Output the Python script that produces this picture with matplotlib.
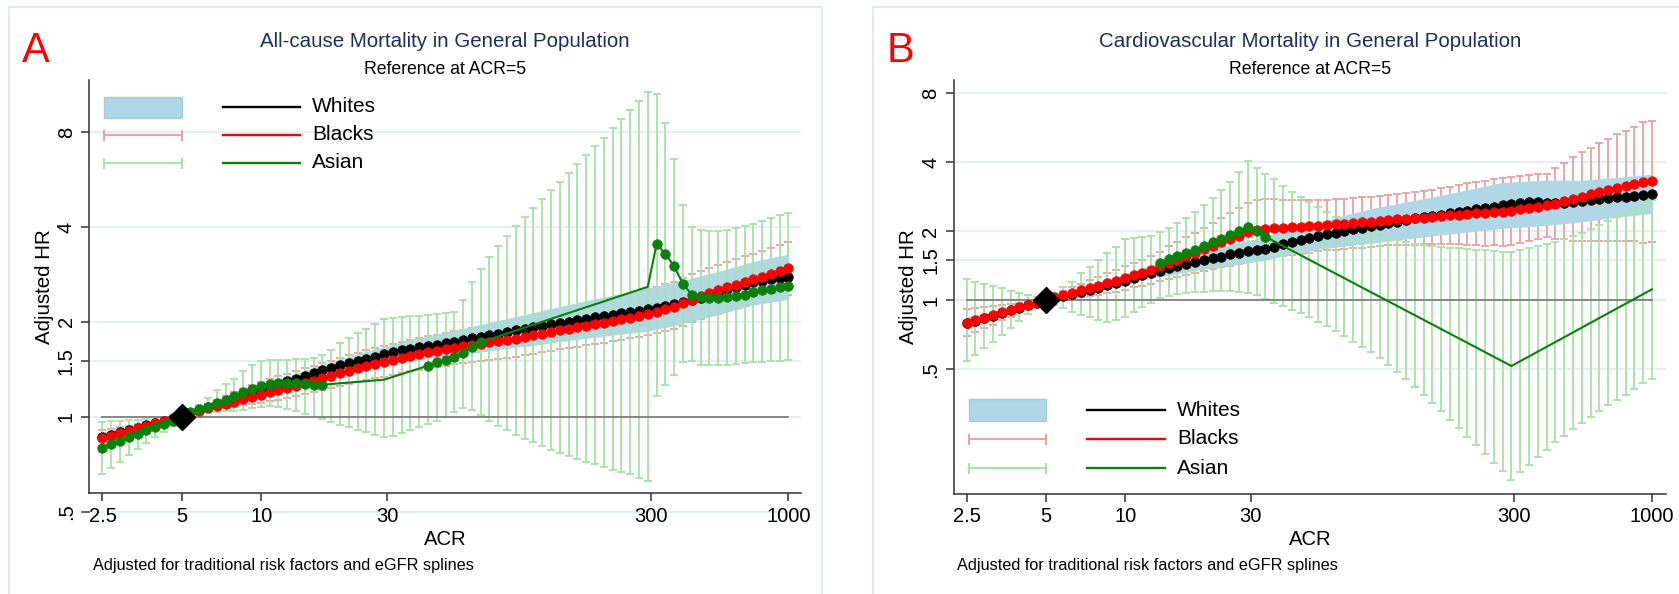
import matplotlib
matplotlib.use("Agg")
import matplotlib.pyplot as plt
import matplotlib.transforms as mtransforms
from matplotlib.lines import Line2D
from matplotlib.patches import Rectangle
from matplotlib.ticker import NullLocator

plt.rcParams['font.family'] = ['Liberation Sans', 'DejaVu Sans']

# ---------------------------------------------------------------- data
# ACR evaluation grid (log-spaced from 2.5 to 1000)
acr = [2.5, 2.700, 2.915, 3.148, 3.399, 3.671, 3.964, 4.280, 4.622, 4.991,
       5.390, 5.820, 6.285, 6.787, 7.329, 7.914, 8.546, 9.228, 9.965, 10.76,
       11.62, 12.55, 13.55, 14.63, 15.80, 17.06, 18.42, 19.89, 21.48, 23.20,
       25.05, 27.05, 29.21, 31.54, 34.06, 36.78, 39.72, 42.89, 46.31, 50.01,
       54.00, 58.31, 62.97, 67.99, 73.42, 79.28, 85.61, 92.45, 99.83, 107.8,
       116.4, 125.7, 135.7, 146.6, 158.3, 170.9, 184.6, 199.3, 215.2, 232.4,
       251.0, 271.0, 292.6, 316.0, 341.3, 368.5, 397.9, 429.7, 464.0, 501.1,
       541.1, 584.3, 630.9, 681.3, 735.7, 794.4, 857.9, 926.4, 1000.0]

x_ticks = [2.5, 5, 10, 30, 300, 1000]
x_tick_labels = ['2.5', '5', '10', '30', '300', '1000']
y_ticks = [0.5, 1, 1.5, 2, 4, 8]
y_tick_labels = ['.5', '1', '1.5', '2', '4', '8']
legend_labels = ['Whites', 'Blacks', 'Asian']

# ---- Panel A: all-cause mortality
A_whites_hr = [0.862, 0.876, 0.892, 0.907, 0.924, 0.940, 0.956, 0.972, 0.987, 1.000,
               1.025, 1.050, 1.075, 1.100, 1.125, 1.150, 1.175, 1.200, 1.225, 1.250,
               1.272, 1.296, 1.321, 1.350, 1.377, 1.404, 1.431, 1.456, 1.482, 1.507,
               1.529, 1.552, 1.578, 1.601, 1.625, 1.641, 1.660, 1.681, 1.693, 1.715,
               1.731, 1.753, 1.772, 1.793, 1.817, 1.836, 1.864, 1.880, 1.905, 1.928,
               1.940, 1.964, 1.984, 2.003, 2.028, 2.048, 2.073, 2.090, 2.110, 2.130,
               2.150, 2.170, 2.190, 2.215, 2.250, 2.285, 2.320, 2.350, 2.378, 2.437,
               2.484, 2.540, 2.578, 2.627, 2.670, 2.700, 2.730, 2.760, 2.780]
A_band_acr = [2.5, 3.399, 4.991, 7.329, 11.62, 17.06, 25.05, 36.78, 54.0, 79.28,
              116.4, 170.9, 292.6, 397.9, 541.1, 735.7, 1000.0]
A_band_lo = [0.836, 0.909, 1.0, 1.090, 1.228, 1.340, 1.445, 1.510, 1.560, 1.634,
             1.700, 1.776, 1.868, 1.975, 2.110, 2.265, 2.355]
A_band_hi = [0.897, 0.944, 1.0, 1.146, 1.317, 1.467, 1.613, 1.756, 1.878, 2.020,
             2.173, 2.337, 2.562, 2.710, 2.890, 3.110, 3.280]

A_blacks_hr = [0.856, 0.870, 0.888, 0.903, 0.921, 0.938, 0.955, 0.971, 0.988, 1.000,
               1.027, 1.045, 1.063, 1.081, 1.100, 1.118, 1.138, 1.155, 1.175, 1.195,
               1.212, 1.234, 1.255, 1.280, 1.302, 1.325, 1.350, 1.375, 1.400, 1.425,
               1.450, 1.472, 1.493, 1.515, 1.538, 1.560, 1.580, 1.600, 1.618, 1.637,
               1.655, 1.672, 1.690, 1.706, 1.723, 1.738, 1.754, 1.771, 1.792, 1.815,
               1.837, 1.857, 1.879, 1.900, 1.920, 1.945, 1.970, 1.990, 2.015, 2.040,
               2.064, 2.090, 2.115, 2.150, 2.190, 2.232, 2.290, 2.355, 2.410, 2.470,
               2.520, 2.575, 2.620, 2.680, 2.730, 2.780, 2.845, 2.905, 2.955]
A_blacks_lo = [0.810, 0.828, 0.851, 0.870, 0.893, 0.915, 0.938, 0.959, 0.982, 1.000,
               1.021, 1.032, 1.044, 1.055, 1.067, 1.078, 1.090, 1.100, 1.110, 1.121,
               1.128, 1.145, 1.161, 1.180, 1.197, 1.214, 1.233, 1.251, 1.270, 1.288,
               1.305, 1.323, 1.339, 1.357, 1.376, 1.393, 1.409, 1.426, 1.438, 1.454,
               1.468, 1.480, 1.494, 1.506, 1.518, 1.529, 1.542, 1.553, 1.570, 1.586,
               1.604, 1.619, 1.635, 1.651, 1.667, 1.684, 1.704, 1.719, 1.737, 1.756,
               1.775, 1.793, 1.813, 1.838, 1.868, 1.899, 1.944, 1.995, 2.036, 2.082,
               2.119, 2.160, 2.193, 2.240, 2.277, 2.313, 2.361, 2.405, 2.441]
A_blacks_hi = [0.905, 0.914, 0.927, 0.937, 0.950, 0.961, 0.973, 0.984, 0.994, 1.000,
               1.039, 1.070, 1.101, 1.133, 1.166, 1.196, 1.229, 1.259, 1.290, 1.320,
               1.345, 1.371, 1.396, 1.425, 1.450, 1.477, 1.507, 1.536, 1.565, 1.595,
               1.624, 1.650, 1.675, 1.700, 1.727, 1.753, 1.778, 1.800, 1.822, 1.845,
               1.865, 1.886, 1.906, 1.926, 1.945, 1.964, 1.989, 2.015, 2.046, 2.080,
               2.113, 2.145, 2.178, 2.210, 2.241, 2.278, 2.315, 2.346, 2.386, 2.424,
               2.460, 2.500, 2.538, 2.580, 2.628, 2.681, 2.750, 2.831, 2.897, 2.971,
               3.034, 3.100, 3.157, 3.232, 3.292, 3.355, 3.437, 3.512, 3.576]

A_asian_hr = [0.795, 0.819, 0.839, 0.862, 0.885, 0.905, 0.927, 0.950, 0.973, 1.000,
              1.032, 1.055, 1.078, 1.105, 1.132, 1.163, 1.195, 1.224, 1.248, 1.267,
              1.280, 1.283, 1.280, 1.270, 1.264, 1.264, None, None, None, None,
              None, None, 1.311, None, None, None, None, 1.452, 1.488, 1.517,
              1.548, 1.590, 1.665, 1.725, None, None, None, None, None, None,
              None, None, None, None, None, None, None, None, None, None,
              None, None, 2.584, 3.530, 3.290, 3.000, 2.640, 2.440, 2.390, 2.375,
              2.375, 2.390, 2.410, 2.440, 2.480, 2.520, 2.547, 2.584, 2.596]
A_asian_plain = [29.21, 292.6]          # line vertices drawn without a marker
A_asian_lo = [0.657, 0.687, 0.718, 0.754, 0.789, 0.825, 0.862, 0.898, 0.936, 1.000,
              1.020, 1.027, 1.032, 1.037, 1.043, 1.047, 1.052, 1.066, 1.078, 1.084,
              1.073, 1.060, 1.040, 1.022, 1.002, 0.983, 0.964, 0.945, 0.929, 0.911,
              0.894, 0.876, 0.860, 0.872, 0.889, 0.907, 0.927, 0.948, 0.973, 1.002,
              1.035, 1.070, 1.052, 1.015, 0.971, 0.936, 0.905, 0.876, 0.851, 0.829,
              0.809, 0.785, 0.767, 0.752, 0.734, 0.721, 0.707, 0.695, 0.679, 0.667,
              0.658, 0.641, 0.627, 1.160, 1.264, 1.360, 1.488, 1.498, 1.463, 1.456,
              1.456, 1.463, 1.470, 1.480, 1.488, 1.495, 1.498, 1.507, 1.510]
A_asian_hi = [0.965, 0.968, 0.972, 0.976, 0.980, 0.984, 0.988, 0.992, 0.996, 1.000,
              1.045, 1.089, 1.147, 1.212, 1.270, 1.321, 1.393, 1.463, 1.498, 1.517,
              1.514, 1.517, 1.520, 1.529, 1.540, 1.575, 1.633, 1.715, 1.778, 1.846,
              1.900, 1.976, 2.048, 2.058, 2.073, 2.083, 2.094, 2.104, 2.120, 2.135,
              2.150, 2.343, 2.672, 2.948, 3.218, 3.478, 3.753, 4.028, 4.314, 4.594,
              4.895, 5.229, 5.555, 5.920, 6.325, 6.755, 7.200, 7.670, 8.250, 8.790,
              9.390, 10.03, 10.69, 10.60, 8.540, 6.590, 4.686, 3.996, 3.920, 3.880,
              3.890, 3.920, 3.960, 4.020, 4.087, 4.180, 4.260, 4.365, 4.440]

# ---- Panel B: cardiovascular mortality
B_whites_hr = [0.795, 0.816, 0.836, 0.858, 0.880, 0.903, 0.927, 0.951, 0.975, 1.000,
               1.024, 1.046, 1.068, 1.090, 1.113, 1.137, 1.162, 1.190, 1.218, 1.252,
               1.285, 1.318, 1.346, 1.379, 1.412, 1.440, 1.469, 1.499, 1.525, 1.549,
               1.587, 1.613, 1.636, 1.657, 1.674, 1.710, 1.755, 1.795, 1.832, 1.876,
               1.915, 1.941, 1.972, 2.005, 2.040, 2.073, 2.109, 2.130, 2.180, 2.202,
               2.240, 2.278, 2.301, 2.332, 2.355, 2.395, 2.435, 2.460, 2.495, 2.536,
               2.561, 2.595, 2.630, 2.665, 2.691, 2.674, 2.665, 2.647, 2.665, 2.683,
               2.710, 2.737, 2.766, 2.785, 2.812, 2.830, 2.850, 2.880, 2.917]
B_band_acr = [2.5, 3.399, 4.991, 7.329, 11.62, 18.42, 31.54, 54.0, 85.61, 158.3,
              271.0, 397.9, 541.1, 735.7, 1000.0]
B_band_lo = [0.742, 0.848, 1.0, 1.070, 1.226, 1.350, 1.474, 1.670, 1.773, 1.930,
             2.060, 2.120, 2.200, 2.300, 2.395]
B_band_hi = [0.848, 0.912, 1.0, 1.160, 1.379, 1.600, 1.860, 2.196, 2.509, 2.873,
             3.270, 3.350, 3.340, 3.440, 3.553]

B_blacks_hr = [0.799, 0.821, 0.840, 0.862, 0.885, 0.907, 0.932, 0.954, 0.976, 1.000,
               1.030, 1.055, 1.079, 1.105, 1.131, 1.158, 1.190, 1.218, 1.251, 1.286,
               1.320, 1.356, 1.405, 1.455, 1.505, 1.555, 1.610, 1.670, 1.730, 1.790,
               1.845, 1.906, 1.990, 2.030, 2.050, 2.061, 2.073, 2.080, 2.087, 2.101,
               2.115, 2.130, 2.144, 2.158, 2.173, 2.187, 2.202, 2.224, 2.240, 2.255,
               2.262, 2.278, 2.293, 2.309, 2.332, 2.348, 2.363, 2.371, 2.395, 2.403,
               2.428, 2.435, 2.460, 2.495, 2.527, 2.561, 2.595, 2.638, 2.712, 2.768,
               2.830, 2.901, 2.959, 3.030, 3.100, 3.152, 3.220, 3.270, 3.300]
B_blacks_lo = [0.699, 0.729, 0.754, 0.784, 0.818, 0.850, 0.888, 0.923, 0.959, 1.000,
               1.010, 1.015, 1.023, 1.033, 1.044, 1.058, 1.077, 1.092, 1.112, 1.138,
               1.158, 1.179, 1.211, 1.233, 1.258, 1.286, 1.316, 1.347, 1.373, 1.399,
               1.418, 1.433, 1.494, 1.504, 1.523, 1.539, 1.563, 1.576, 1.590, 1.611,
               1.633, 1.650, 1.662, 1.675, 1.686, 1.699, 1.713, 1.732, 1.742, 1.750,
               1.746, 1.750, 1.753, 1.754, 1.766, 1.761, 1.756, 1.738, 1.743, 1.734,
               1.744, 1.734, 1.749, 1.784, 1.814, 1.853, 1.892, 1.851, 1.857, 1.820,
               1.812, 1.818, 1.809, 1.814, 1.813, 1.810, 1.813, 1.782, 1.800]
B_blacks_hi = [0.913, 0.925, 0.936, 0.948, 0.958, 0.968, 0.978, 0.986, 0.993, 1.000,
               1.050, 1.097, 1.138, 1.182, 1.225, 1.268, 1.315, 1.358, 1.407, 1.453,
               1.505, 1.559, 1.630, 1.717, 1.800, 1.880, 1.970, 2.070, 2.180, 2.290,
               2.400, 2.535, 2.650, 2.740, 2.760, 2.760, 2.750, 2.745, 2.740, 2.740,
               2.740, 2.750, 2.766, 2.780, 2.800, 2.815, 2.830, 2.855, 2.880, 2.905,
               2.930, 2.965, 3.000, 3.040, 3.080, 3.130, 3.180, 3.235, 3.290, 3.330,
               3.380, 3.420, 3.460, 3.490, 3.520, 3.540, 3.560, 3.760, 3.960, 4.210,
               4.420, 4.630, 4.840, 5.060, 5.300, 5.490, 5.720, 6.000, 6.050]

B_asian_hr = [None, None, None, None, None, None, None, None, None, None,
              None, None, None, None, None, None, None, None, None, None,
              None, None, 1.450, 1.510, 1.560, 1.610, 1.665, 1.725, 1.790, 1.860,
              1.930, 2.005, 2.094, 2.005, 1.895, None, None, None, None, None,
              None, None, None, None, None, None, None, None, None, None,
              None, None, None, None, None, None, None, None, None, None,
              None, None, 0.517, None, None, None, None, None, None, None,
              None, None, None, None, None, None, None, None, 1.117]
B_asian_plain = [292.6, 1000.0]         # line vertices drawn without a marker
B_asian_lo = [0.544, 0.580, 0.621, 0.660, 0.705, 0.757, 0.812, 0.870, 0.932, 1.000,
              0.954, 0.923, 0.892, 0.863, 0.843, 0.820, 0.807, 0.820, 0.848, 0.892,
              0.938, 0.976, 1.020, 1.044, 1.062, 1.073, 1.083, 1.090, 1.095, 1.100,
              1.095, 1.085, 1.075, 1.060, 1.012, 0.971, 0.947, 0.911, 0.882, 0.843,
              0.808, 0.772, 0.737, 0.698, 0.661, 0.626, 0.593, 0.558, 0.524, 0.489,
              0.454, 0.420, 0.387, 0.356, 0.328, 0.302, 0.277, 0.254, 0.233, 0.214,
              0.196, 0.180, 0.165, 0.178, 0.192, 0.207, 0.223, 0.240, 0.257, 0.275,
              0.293, 0.311, 0.329, 0.348, 0.366, 0.388, 0.410, 0.434, 0.456]
B_asian_hi = [1.235, 1.205, 1.178, 1.155, 1.128, 1.101, 1.073, 1.055, 1.037, 1.000,
              1.079, 1.146, 1.205, 1.311, 1.401, 1.499, 1.604, 1.713, 1.845, 1.864,
              1.883, 1.906, 1.990, 2.070, 2.170, 2.290, 2.430, 2.600, 2.800, 3.030,
              3.280, 3.620, 4.050, 3.790, 3.550, 3.370, 3.150, 2.980, 2.810, 2.680,
              2.550, 2.430, 2.320, 2.230, 2.150, 2.070, 1.990, 1.927, 1.869, 1.827,
              1.791, 1.766, 1.748, 1.730, 1.713, 1.696, 1.686, 1.674, 1.663, 1.652,
              1.641, 1.630, 1.624, 1.652, 1.686, 1.720, 1.760, 1.801, 1.851, 1.906,
              1.972, 2.040, 2.124, 2.217, 2.317, 2.410, 2.510, 2.610, 2.737]

# ---------------------------------------------------------------- style
W, H, DPI = 1679, 594, 100
GRID = '#e8eff2'
AXIS = '#333333'
BAND = '#b0d7e5'
BAND_EDGE = '#a0cddc'
PINK = '#e6a6a6'
LGREEN = '#aae3aa'
DGREEN = '#0b800b'
NAVY = '#1e2e5c'
FRAME = '#e3ebef'
DOT_MS = 7.0

fig = plt.figure(figsize=(W / DPI, H / DPI), dpi=DPI, facecolor='white')


def fx(px):
    return px / W


def fy(py):
    return 1 - py / H


def make_axes(left, right, top, bottom):
    return fig.add_axes([fx(left), fy(bottom), (right - left) / W, (bottom - top) / H])


def errbars(ax, lo, hi, color, z):
    ax.vlines(acr, lo, hi, colors=color, lw=1.35, zorder=z)
    for ends in (lo, hi):
        ax.plot(acr, ends, ls='none', marker='_', ms=5.2, mew=1.35, color=color, zorder=z)


def dotted_line(ax, hr, color, z):
    ax.plot(acr, hr, color=color, lw=1.2, marker='o', ms=DOT_MS, mec=color, mew=0.4,
            zorder=z)


def asian_line(ax, hr, plain, z):
    pts = [(a, h) for a, h in zip(acr, hr) if h is not None]
    ax.plot([p[0] for p in pts], [p[1] for p in pts], color=DGREEN, lw=1.5, zorder=z)
    dots = [p for p in pts if p[0] not in plain]
    ax.plot([p[0] for p in dots], [p[1] for p in dots], ls='none', marker='o',
            ms=DOT_MS, color=DGREEN, mec=DGREEN, mew=0.4, zorder=z)


def panel(ax, xlim, ylim, w_hr, band_x, band_lo, band_hi, b_hr, b_lo, b_hi,
          a_hr, a_plain, a_lo, a_hi, ticks_in_view):
    ax.set_xscale('log')
    ax.set_yscale('log')
    ax.set_xlim(*xlim)
    ax.set_ylim(*ylim)
    ax.set_facecolor('none')
    for t in ticks_in_view:
        ax.axhline(t, color=GRID, lw=1.6, zorder=0.5)
    errbars(ax, b_lo, b_hi, PINK, 1)
    ax.fill_between(band_x, band_lo, band_hi, color=BAND, lw=0, zorder=2)
    errbars(ax, a_lo, a_hi, LGREEN, 3)
    ax.plot([2.5, 1000], [1, 1], color='#7f7f7f', lw=1.3, zorder=4)
    dotted_line(ax, w_hr, 'black', 5)
    dotted_line(ax, b_hr, '#ff0000', 6)
    asian_line(ax, a_hr, a_plain, 7)
    ax.plot([5], [1], marker='D', ms=13.3, color='black', ls='none', zorder=9)

    ax.xaxis.set_minor_locator(NullLocator())
    ax.yaxis.set_minor_locator(NullLocator())
    ax.set_xticks(x_ticks)
    ax.set_xticklabels(x_tick_labels)
    labs = [lab for t, lab in zip(y_ticks, y_tick_labels) if t in ticks_in_view]
    ax.set_yticks(ticks_in_view)
    ax.set_yticklabels(labs, rotation=90, va='center')
    ax.tick_params(axis='both', which='major', length=5.8, width=1.1, color=AXIS,
                   labelsize=14.5, labelcolor='black')
    ax.tick_params(axis='x', pad=4.0)
    ax.tick_params(axis='y', pad=4.0)
    for s in ('top', 'right'):
        ax.spines[s].set_visible(False)
    for s in ('left', 'bottom'):
        ax.spines[s].set_color(AXIS)
        ax.spines[s].set_linewidth(1.1)


def legend(x0, x1, rows, lx0, lx1, tx, rect_h):
    r_top = rows[0] - rect_h / 2
    fig.add_artist(Rectangle((fx(x0), fy(r_top + rect_h)), (x1 - x0) / W, rect_h / H,
                             transform=fig.transFigure, facecolor=BAND,
                             edgecolor=BAND_EDGE, lw=1.0))
    for y, c in ((rows[1], PINK), (rows[2], LGREEN)):
        fig.add_artist(Line2D([fx(x0), fx(x1)], [fy(y), fy(y)],
                              transform=fig.transFigure, color=c, lw=1.5))
        for xe in (x0, x1):
            fig.add_artist(Line2D([fx(xe), fx(xe)], [fy(y - 4.5), fy(y + 4.5)],
                                  transform=fig.transFigure, color=c, lw=1.5))
    for y, c, lab in zip(rows, ('black', '#ff0000', DGREEN), legend_labels):
        fig.add_artist(Line2D([fx(lx0), fx(lx1)], [fy(y), fy(y)],
                              transform=fig.transFigure, color=c, lw=1.7))
        fig.text(fx(tx), fy(y), lab, ha='left', va='center', fontsize=15, color='black')


# ---------------------------------------------------------------- panel A
axA = make_axes(89.3, 800.7, 80, 493.3)
panel(axA, (2.228, 1112.6), (0.572, 11.7), A_whites_hr, A_band_acr, A_band_lo, A_band_hi,
      A_blacks_hr, A_blacks_lo, A_blacks_hi, A_asian_hr, A_asian_plain,
      A_asian_lo, A_asian_hi, [1, 1.5, 2, 4, 8])
# the .5 tick sits just below the plotted range
trA = mtransforms.blended_transform_factory(axA.transAxes, axA.transData)
axA.plot([0, 1], [0.5, 0.5], transform=trA, color=GRID, lw=1.6, clip_on=False, zorder=0.5)
axA.plot([-7.6 / 711.4, 0], [0.5, 0.5], transform=trA, color=AXIS, lw=1.1, clip_on=False)
axA.text(-13.0 / 711.4, 0.5, y_tick_labels[0], transform=trA, rotation=90, ha='right',
         va='center', fontsize=14.5, clip_on=False)

# ---------------------------------------------------------------- panel B
axB = make_axes(954.0, 1665.7, 80, 493.7)
panel(axB, (2.24, 1127.0), (0.1434, 9.14), B_whites_hr, B_band_acr, B_band_lo, B_band_hi,
      B_blacks_hr, B_blacks_lo, B_blacks_hi, B_asian_hr, B_asian_plain,
      B_asian_lo, B_asian_hi, [0.5, 1, 1.5, 2, 4, 8])

# ---------------------------------------------------------------- legends
legend(104, 182, (107, 135, 163), 223, 300, 312, 21)
legend(968.6, 1045.7, (410, 439, 468), 1086.5, 1164.6, 1177, 22)

# ---------------------------------------------------------------- texts
for cx, letter, lx, title, ax_l, note_x in (
        (445, 'A', 22, 'All-cause Mortality in General Population', 44, 93.3),
        (1310, 'B', 887, 'Cardiovascular Mortality in General Population', 908, 956.6)):
    fig.text(fx(lx), fy(62), letter, ha='left', va='baseline', fontsize=30, color='#ff0000')
    fig.text(fx(cx), fy(47), title, ha='center', va='baseline', fontsize=14.8, color=NAVY)
    fig.text(fx(cx), fy(74), 'Reference at ACR=5', ha='center', va='baseline',
             fontsize=12.7, color='black')
    fig.text(fx(cx), fy(545), 'ACR', ha='center', va='baseline', fontsize=14.6)
    fig.text(fx(ax_l), fy(286.5), 'Adjusted HR', rotation=90, ha='center', va='center',
             fontsize=14.8)
    fig.text(fx(note_x), fy(570), 'Adjusted for traditional risk factors and eGFR splines',
             ha='left', va='baseline', fontsize=11.7)

# light outer frames around each panel
for pts in (((9, 600), (9, 7), (822, 7), (822, 600)),
            ((873, 600), (873, 7), (1690, 7))):
    fig.add_artist(Line2D([fx(p[0]) for p in pts], [fy(p[1]) for p in pts],
                          transform=fig.transFigure, color=FRAME, lw=1.5))

fig.savefig('out.png', dpi=DPI, facecolor='white')
